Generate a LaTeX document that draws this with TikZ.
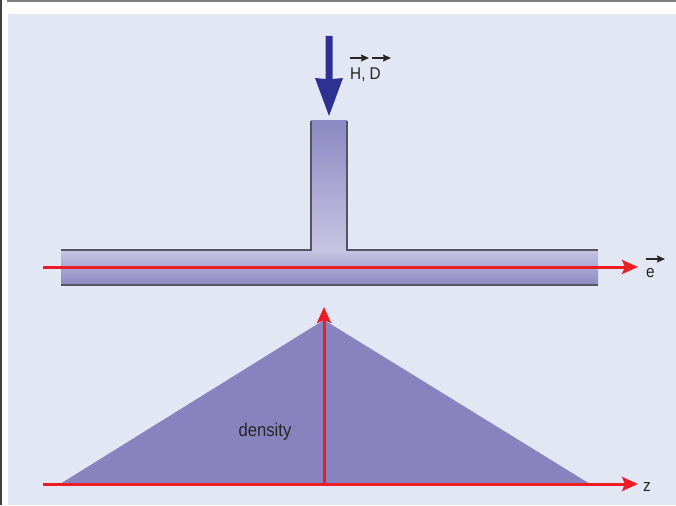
\documentclass[tikz,border=0pt]{standalone}
\usepackage{fontspec}
\setmainfont{Liberation Sans}[FakeStretch=0.9]
\usetikzlibrary{arrows.meta}
\definecolor{bgblue}{HTML}{E3E7F3}
\definecolor{tri}{HTML}{8882BE}
\definecolor{navy}{HTML}{2E3192}
\definecolor{axisred}{HTML}{EC1C24}
\definecolor{pipedark}{HTML}{8C88C2}
\definecolor{pipelight}{HTML}{C6C5E2}
\definecolor{edge}{HTML}{555560}
\tikzset{
  redarrow/.style={axisred, line width=3pt, -{Stealth[length=16pt,width=14pt,inset=3pt]}},
  lbl/.style={inner sep=0pt, text=black!85, font=\fontsize{17}{20}\selectfont},
  veclbl/.style={inner sep=0pt, text=black!85, font=\fontsize{17}{20}\selectfont},
  vecarrow/.style={black!85, line width=1.3pt, -{Stealth[length=8pt,width=7pt,inset=1pt]}},
  pipeedge/.style={edge, line width=1.2pt}
}
\begin{document}
\begin{tikzpicture}[x=1pt,y=-1pt]
\useasboundingbox (0,0) rectangle (676,505);
\fill[white] (0,0) rectangle (676,505);
\fill[bgblue] (8,14) rectangle (676,505);
\draw[gray, line width=2pt] (7,1) -- (676,1);
\draw[black!75, line width=2pt] (1,0) -- (1,505);

% stem
\shade[top color=pipedark, bottom color=pipelight] (311,121) rectangle (347,251);
% horizontal pipe
\shade[top color=pipelight, bottom color=pipedark] (61,250) rectangle (598,285);
\draw[pipeedge] (311,121) -- (311,250) -- (61,250);
\draw[pipeedge] (347,121) -- (347,250) -- (598,250);
\draw[pipeedge] (61,285) -- (598,285);

% incoming blue arrow
\fill[navy] (325.5,36) -- (332.5,36) -- (332.5,79) -- (343,78) -- (329,116) -- (315,78) -- (325.5,79) -- cycle;

% H, D label
\node[veclbl, anchor=base west] (hd) at (350,80) {H, D};
\coordinate (ha) at (350,58);
\coordinate (hb) at (369,58);
\coordinate (da) at (372,58);
\coordinate (db) at (391,58);
\draw[vecarrow] (ha) -- (hb);
\draw[vecarrow] (da) -- (db);

% pipe axis
\coordinate (pa) at (43,267);
\coordinate (pb) at (638,267);
\draw[redarrow] (pa) -- (pb);
\node[lbl, anchor=base west] (e) at (646,277) {e};
\coordinate (ea) at (646,259);
\coordinate (eb) at (665,259);
\draw[vecarrow] (ea) -- (eb);

% density triangle
\fill[tri] (60,484) -- (324,320) -- (590,484) -- cycle;
\node[lbl, font=\fontsize{18.5}{22}\selectfont, anchor=base] (dens) at (265,436) {density};

% axes
\coordinate (za) at (43,484);
\coordinate (zb) at (638,484);
\draw[redarrow] (za) -- (zb);
\node[lbl, anchor=base west] (z) at (643,491) {z};
\coordinate (ya) at (324,484);
\coordinate (yb) at (324,307);
\draw[redarrow] (ya) -- (yb);
\end{tikzpicture}
\end{document}
